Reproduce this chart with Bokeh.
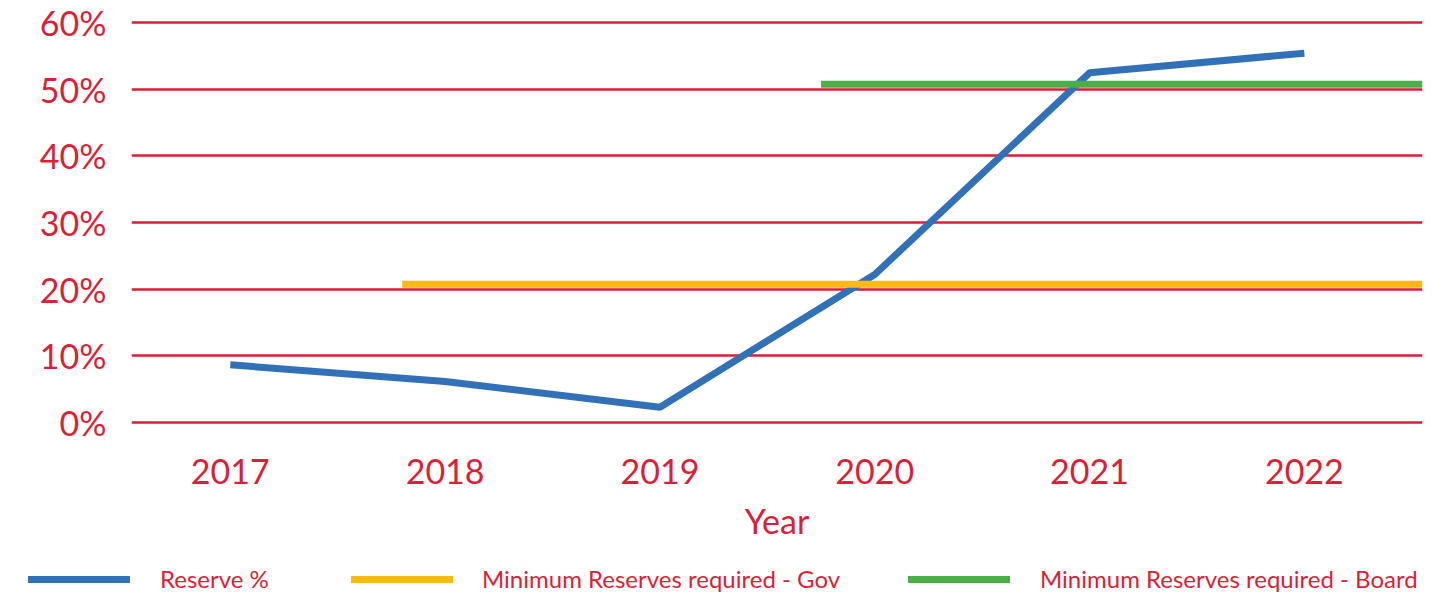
from bokeh.plotting import figure
from bokeh.layouts import column
from bokeh.models import Range1d, FixedTicker, PrintfTickFormatter, Div
from bokeh.embed import file_html
from bokeh.resources import INLINE

years = [2017, 2018, 2019, 2020, 2021, 2022]
reserve_pct = [8.65, 6.15, 2.3, 22.2, 52.45, 55.4]

gov_x = [2017.8, 2022.55]
gov_pct = [20.75, 20.75]
board_x = [2019.75, 2022.55]
board_pct = [50.75, 50.75]

y_ticks = [0, 10, 20, 30, 40, 50, 60]

series_names = ["Reserve %", "Minimum Reserves required - Gov", "Minimum Reserves required - Board"]

RED = "#DC1E37"
BLUE = "#3271B8"
YELLOW = "#FDB917"
GREEN = "#4BAE48"
FONT = "Lato"

p = figure(width=1440, height=550, output_backend="svg", toolbar_location=None,
           x_range=Range1d(2016.54, 2022.55), y_range=Range1d(-0.6, 60.6),
           min_border_left=131, min_border_right=18, min_border_top=18, min_border_bottom=124)
p.outline_line_color = None
p.background_fill_color = "white"

p.line(years, reserve_pct, line_color=BLUE, line_width=7)
p.line(gov_x, gov_pct, line_color=YELLOW, line_width=7)
p.line(board_x, board_pct, line_color=GREEN, line_width=7)

# axes
p.xaxis.ticker = FixedTicker(ticks=years)
p.yaxis.ticker = FixedTicker(ticks=y_ticks)
p.yaxis.formatter = PrintfTickFormatter(format="%d%%")
for ax in (p.xaxis[0], p.yaxis[0]):
    ax.axis_line_color = None
    ax.major_tick_line_color = None
    ax.minor_tick_line_color = None
    ax.major_label_text_color = RED
    ax.major_label_text_font = FONT
    ax.major_label_text_font_size = "34px"
p.xaxis.major_label_standoff = 26
p.yaxis.major_label_standoff = 19
p.xaxis.axis_label = "Year"
p.xaxis.axis_label_text_color = RED
p.xaxis.axis_label_text_font = FONT
p.xaxis.axis_label_text_font_size = "34px"
p.xaxis.axis_label_text_font_style = "normal"
p.xaxis.axis_label_standoff = 13

p.xgrid.grid_line_color = None
p.ygrid.grid_line_color = RED
p.ygrid.grid_line_width = 2.5
p.ygrid.grid_line_alpha = 1.0

# legend strip below the chart (spans the full width, like the reference)
swatch_colors = [BLUE, YELLOW, GREEN]
swatch_left = [28, 351, 908]
label_left = [160, 482, 1040]
parts = []
for name, col, sx, lx in zip(series_names, swatch_colors, swatch_left, label_left):
    parts.append(
        f'<div style="position:absolute;left:{sx}px;top:26px;width:102px;height:7px;background:{col};"></div>'
        f'<div style="position:absolute;left:{lx}px;top:15px;line-height:28px;white-space:nowrap;'
        f'font-family:{FONT};font-size:24px;color:{RED};">{name}</div>'
    )
legend_html = '<div style="position:relative;width:1440px;height:45px;">' + "".join(parts) + "</div>"
legend_div = Div(text=legend_html, width=1440, height=45, margin=(0, 0, 0, 0))

layout = column(p, legend_div, spacing=0)
open("out.html", "w").write(file_html(layout, INLINE))
